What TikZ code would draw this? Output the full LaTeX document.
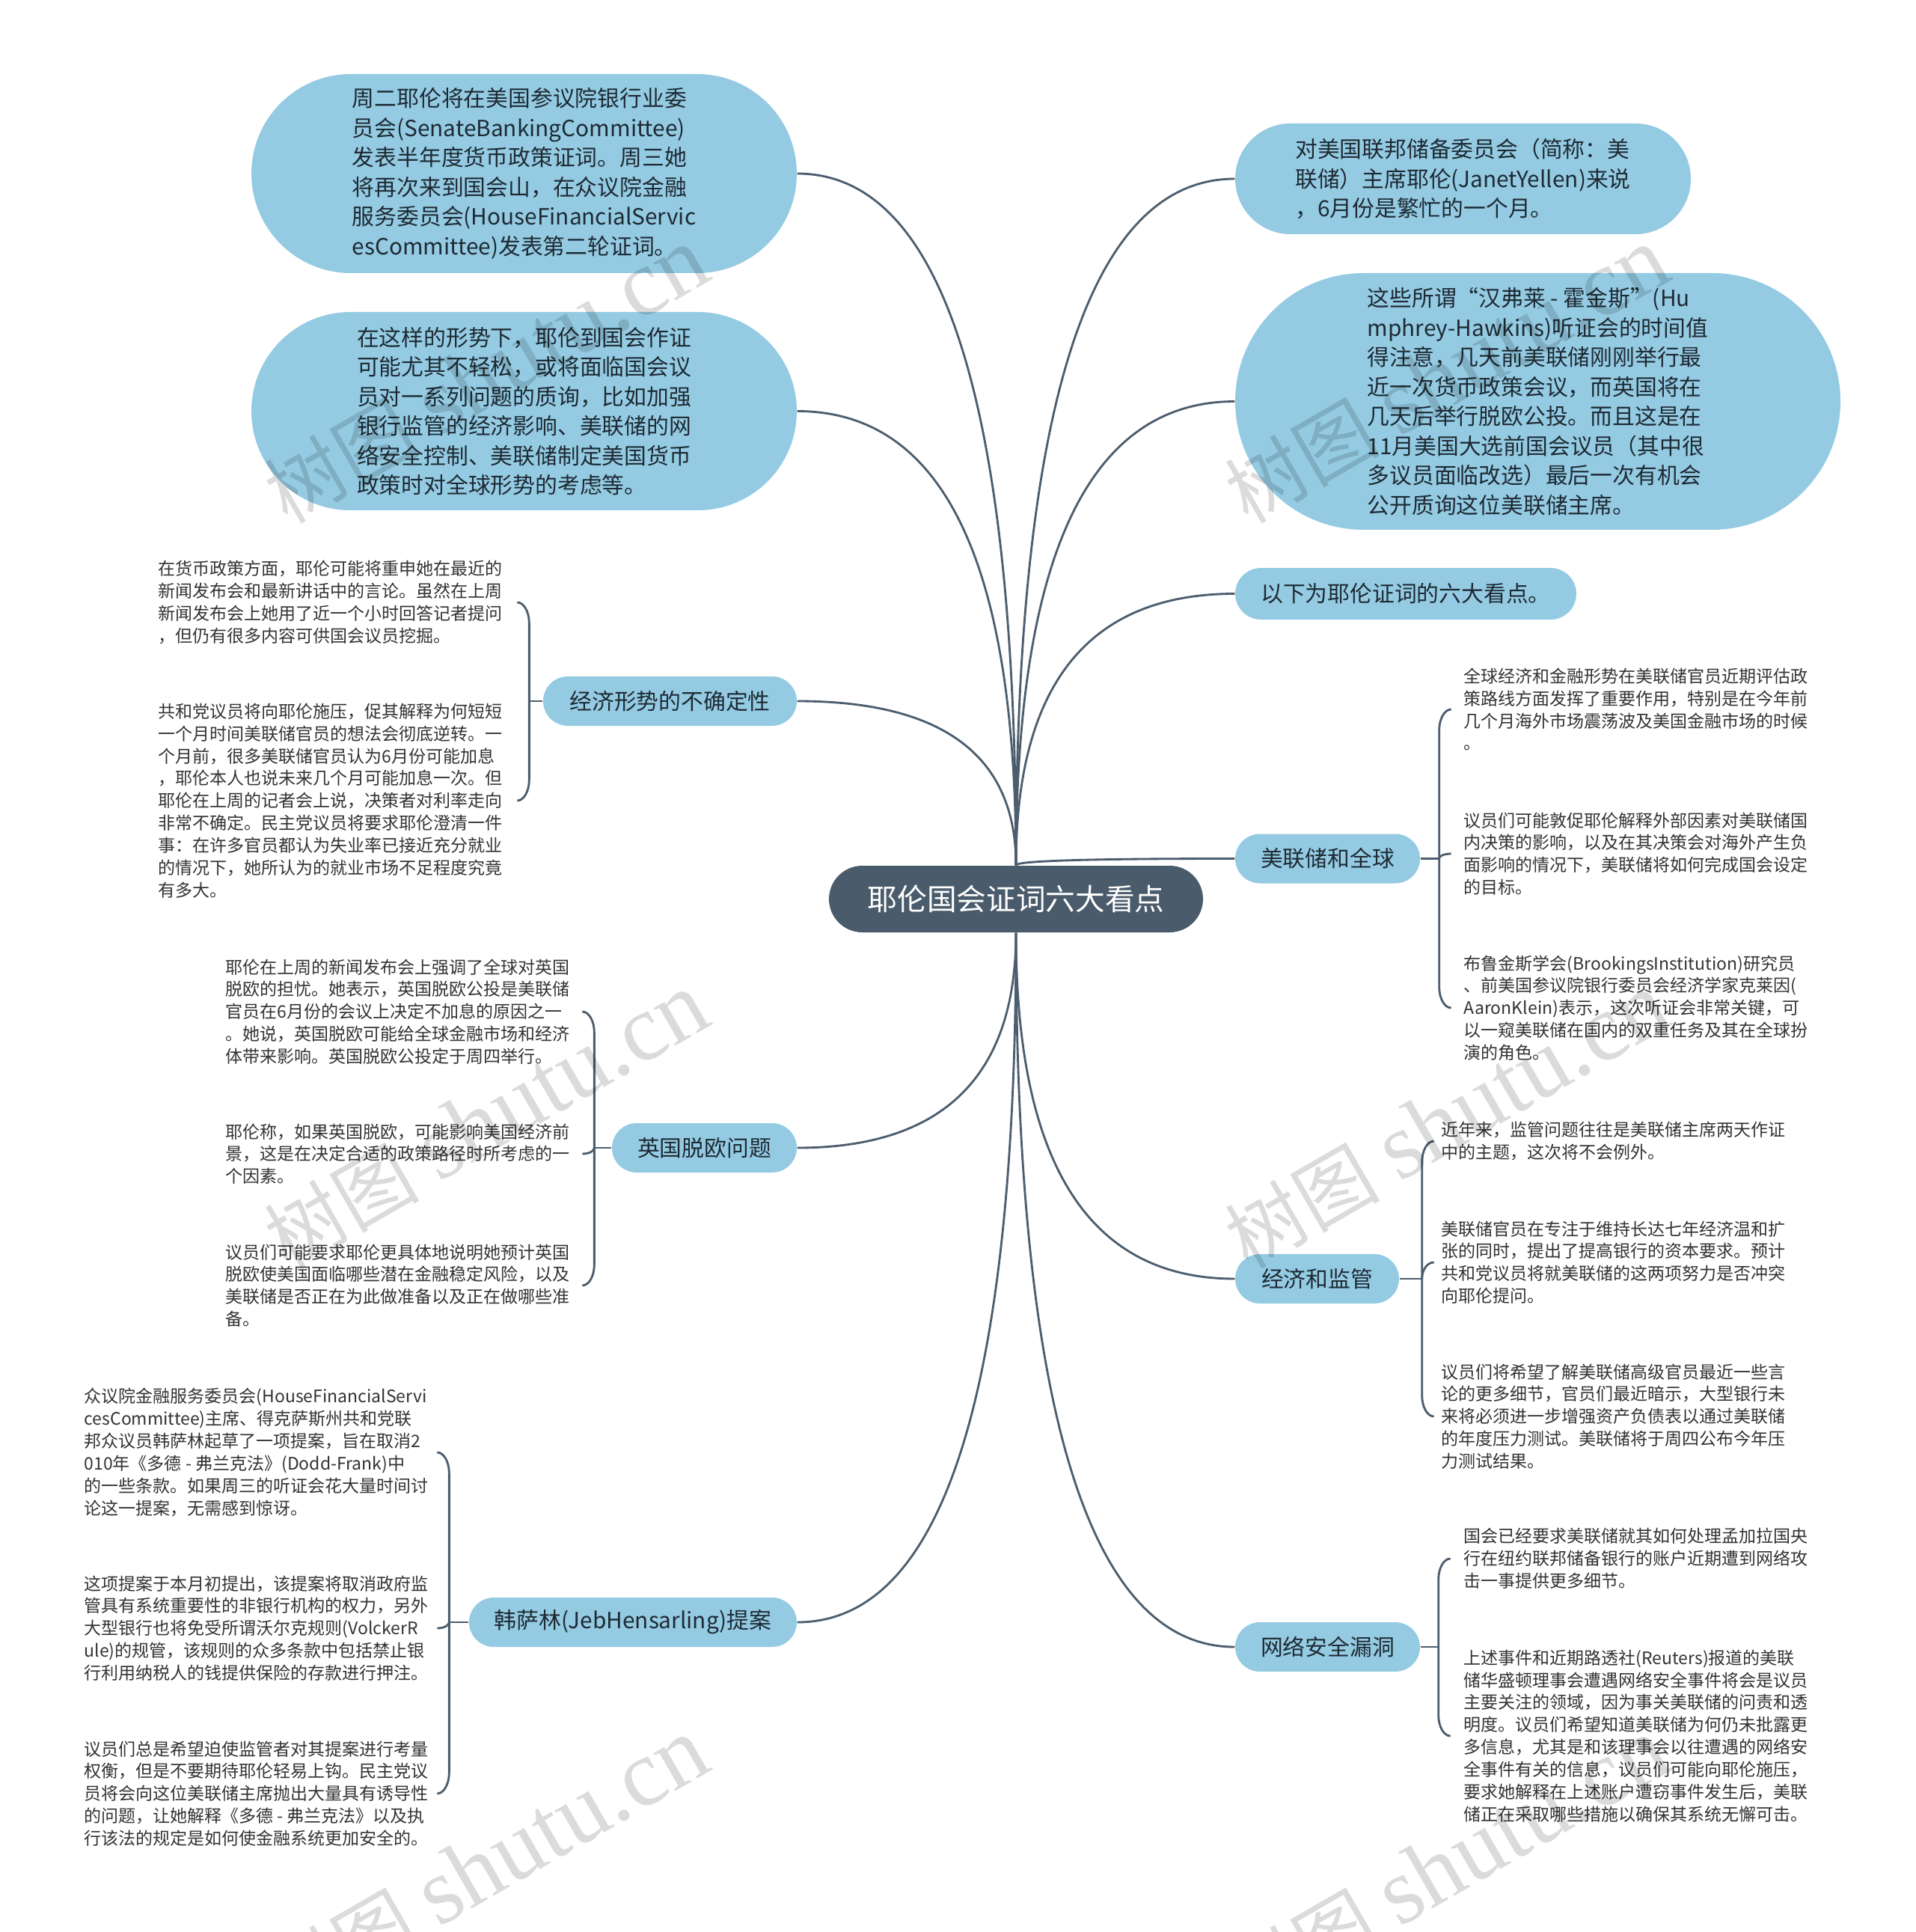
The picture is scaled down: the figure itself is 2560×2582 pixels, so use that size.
\documentclass[tikz,border=0pt]{standalone}
\usepackage{fontspec}
\setmainfont{Noto Sans CJK SC}
\newfontfamily\wmlat{Liberation Serif}
\usetikzlibrary{calc}
\definecolor{pillc}{HTML}{94CBE3}
\definecolor{darkc}{HTML}{4A5B6B}
\definecolor{linec}{HTML}{4C5D6D}
\definecolor{pilltext}{HTML}{1E2A33}
\definecolor{leaftext}{HTML}{333333}
\pgfdeclarelayer{bg}
\pgfdeclarelayer{fg}
\pgfsetlayers{bg,main,fg}
\newcommand\mainconn[2]{%
  \draw[conn] (#1) .. controls ($(#1)!0.667!(#1 |- #2)$) and ($(#2)!0.667!(#1 |- #2)$) .. (#2);}
\newcommand\leafconn[4]{%
  \draw[conn] (#1) -- ($(#1 |- #2.center)+(0,#4)$)
   .. controls ($(#1 |- #2.center)+(0,{#4*0.448})$) and ($(#1 |- #2.center)+({#3*0.448},0)$)
   .. ($(#1 |- #2.center)+(#3,0)$);}
\newcommand\wmtext{树图\hspace{0.25em}{\wmlat\fontsize{38}{38}\selectfont shutu.cn}}
\begin{document}
\begin{tikzpicture}[x=0.3pt,y=-0.3pt,
  conn/.style={draw=linec, line width=0.85pt},
  pill/.style={fill=pillc, text=pilltext, font=\fontsize{8.94}{11.85}\selectfont, align=left, inner sep=0pt},
  branch/.style={fill=pillc, text=pilltext, font=\fontsize{8.94}{11.85}\selectfont, inner sep=0pt, minimum height=19.8pt, rounded corners=9.9pt},
  root/.style={fill=darkc, text=white, font=\fontsize{11.9}{14}\selectfont, inner sep=0pt, minimum width=150pt, minimum height=26.7pt, rounded corners=13.35pt},
  leaf/.style={text=leaftext, font=\fontsize{6.9}{8.95}\selectfont, align=left, inner sep=0pt, anchor=west},
  wm/.style={opacity=0.14, inner sep=0pt, rotate=30, font=\fontsize{31}{31}\selectfont}
]
\useasboundingbox (0,0) rectangle (2560,2582);

% root
\node[root] (C) at (1358,1201.5) {耶伦国会证词六大看点};

% big pills
\node[pill, minimum width=218.7pt, minimum height=79.8pt, rounded corners=39.9pt] (P1) at (700.5,232) {周二耶伦将在美国参议院银行业委\\员会(SenateBankingCommittee)\\发表半年度货币政策证词。周三她\\将再次来到国会山，在众议院金融\\服务委员会(HouseFinancialServic\\esCommittee)发表第二轮证词。};
\node[pill, minimum width=218.7pt, minimum height=79.5pt, rounded corners=39.75pt] (P2) at (700.5,549.5) {在这样的形势下，耶伦到国会作证\\可能尤其不轻松，或将面临国会议\\员对一系列问题的质询，比如加强\\银行监管的经济影响、美联储的网\\络安全控制、美联储制定美国货币\\政策时对全球形势的考虑等。};
\node[pill, minimum width=182.7pt, minimum height=44.4pt, rounded corners=22.2pt] (R1) at (1955.5,239) {对美国联邦储备委员会（简称：美\\联储）主席耶伦(JanetYellen)来说\\，6月份是繁忙的一个月。};
\node[pill, minimum width=242.7pt, minimum height=102.9pt, rounded corners=51.45pt] (R2) at (2055.5,536.5) {这些所谓“汉弗莱 - 霍金斯”(Hu\\mphrey-Hawkins)听证会的时间值\\得注意，几天前美联储刚刚举行最\\近一次货币政策会议，而英国将在\\几天后举行脱欧公投。而且这是在\\11月美国大选前国会议员（其中很\\多议员面临改选）最后一次有机会\\公开质询这位美联储主席。};
\node[pill, minimum width=136.8pt, minimum height=20.7pt, rounded corners=10.35pt] (R3) at (1879,793.5) {以下为耶伦证词的六大看点。};

% branches
\node[branch, minimum width=74.1pt] (G) at (1774.5,1147.5) {美联储和全球};
\node[branch, minimum width=65.7pt] (R) at (1760.5,1709) {经济和监管};
\node[branch, minimum width=74.1pt] (N) at (1774.5,2201) {网络安全漏洞};
\node[branch, minimum width=101.7pt] (E) at (895.5,937) {经济形势的不确定性};
\node[branch, minimum width=74.1pt] (B) at (941.5,1534) {英国脱欧问题};
\node[branch, minimum width=131.4pt] (H) at (846,2168) {韩萨林(JebHensarling)提案};

% leaves: economic uncertainty
\node[leaf] (e1) at (211,805) {在货币政策方面，耶伦可能将重申她在最近的\\新闻发布会和最新讲话中的言论。虽然在上周\\新闻发布会上她用了近一个小时回答记者提问\\，但仍有很多内容可供国会议员挖掘。};
\node[leaf] (e2) at (211,1070) {共和党议员将向耶伦施压，促其解释为何短短\\一个月时间美联储官员的想法会彻底逆转。一\\个月前，很多美联储官员认为6月份可能加息\\，耶伦本人也说未来几个月可能加息一次。但\\耶伦在上周的记者会上说，决策者对利率走向\\非常不确定。民主党议员将要求耶伦澄清一件\\事：在许多官员都认为失业率已接近充分就业\\的情况下，她所认为的就业市场不足程度究竟\\有多大。};
% brexit
\node[leaf] (b1) at (301,1352) {耶伦在上周的新闻发布会上强调了全球对英国\\脱欧的担忧。她表示，英国脱欧公投是美联储\\官员在6月份的会议上决定不加息的原因之一\\。她说，英国脱欧可能给全球金融市场和经济\\体带来影响。英国脱欧公投定于周四举行。};
\node[leaf] (b2) at (301,1542) {耶伦称，如果英国脱欧，可能影响美国经济前\\景，这是在决定合适的政策路径时所考虑的一\\个因素。};
\node[leaf] (b3) at (301,1718) {议员们可能要求耶伦更具体地说明她预计英国\\脱欧使美国面临哪些潜在金融稳定风险，以及\\美联储是否正在为此做准备以及正在做哪些准\\备。};
% hensarling
\node[leaf] (h1) at (112,1941) {众议院金融服务委员会(HouseFinancialServi\\cesCommittee)主席、得克萨斯州共和党联\\邦众议员韩萨林起草了一项提案，旨在取消2\\010年《多德 - 弗兰克法》(Dodd-Frank)中\\的一些条款。如果周三的听证会花大量时间讨\\论这一提案，无需感到惊讶。};
\node[leaf] (h2) at (112,2176) {这项提案于本月初提出，该提案将取消政府监\\管具有系统重要性的非银行机构的权力，另外\\大型银行也将免受所谓沃尔克规则(VolckerR\\ule)的规管，该规则的众多条款中包括禁止银\\行利用纳税人的钱提供保险的存款进行押注。};
\node[leaf] (h3) at (112,2397) {议员们总是希望迫使监管者对其提案进行考量\\权衡，但是不要期待耶伦轻易上钩。民主党议\\员将会向这位美联储主席抛出大量具有诱导性\\的问题，让她解释《多德 - 弗兰克法》以及执\\行该法的规定是如何使金融系统更加安全的。};
% fed & global
\node[leaf] (g1) at (1956,948) {全球经济和金融形势在美联储官员近期评估政\\策路线方面发挥了重要作用，特别是在今年前\\几个月海外市场震荡波及美国金融市场的时候\\。};
\node[leaf] (g2) at (1956,1141) {议员们可能敦促耶伦解释外部因素对美联储国\\内决策的影响，以及在其决策会对海外产生负\\面影响的情况下，美联储将如何完成国会设定\\的目标。};
\node[leaf] (g3) at (1956,1347) {布鲁金斯学会(BrookingsInstitution)研究员\\、前美国参议院银行委员会经济学家克莱因(\\AaronKlein)表示，这次听证会非常关键，可\\以一窥美联储在国内的双重任务及其在全球扮\\演的角色。};
% economy & regulation
\node[leaf] (r1) at (1926,1525) {近年来，监管问题往往是美联储主席两天作证\\中的主题，这次将不会例外。};
\node[leaf] (r2) at (1926,1687) {美联储官员在专注于维持长达七年经济温和扩\\张的同时，提出了提高银行的资本要求。预计\\共和党议员将就美联储的这两项努力是否冲突\\向耶伦提问。};
\node[leaf] (r3) at (1926,1893) {议员们将希望了解美联储高级官员最近一些言\\论的更多细节，官员们最近暗示，大型银行未\\来将必须进一步增强资产负债表以通过美联储\\的年度压力测试。美联储将于周四公布今年压\\力测试结果。};
% cyber security
\node[leaf] (n1) at (1956,2083) {国会已经要求美联储就其如何处理孟加拉国央\\行在纽约联邦储备银行的账户近期遭到网络攻\\击一事提供更多细节。};
\node[leaf] (n2) at (1956,2320) {上述事件和近期路透社(Reuters)报道的美联\\储华盛顿理事会遭遇网络安全事件将会是议员\\主要关注的领域，因为事关美联储的问责和透\\明度。议员们希望知道美联储为何仍未批露更\\多信息，尤其是和该理事会以往遭遇的网络安\\全事件有关的信息，议员们可能向耶伦施压，\\要求她解释在上述账户遭窃事件发生后，美联\\储正在采取哪些措施以确保其系统无懈可击。};

% junctions
\coordinate (JE) at ($(E.west)+(-18,0)$);
\coordinate (JB) at ($(B.west)+(-23,0)$);
\coordinate (JH) at ($(H.west)+(-26,0)$);
\coordinate (JG) at ($(G.east)+(25,0)$);
\coordinate (JR) at ($(R.east)+(30,0)$);
\coordinate (JN) at ($(N.east)+(24,0)$);

\begin{pgfonlayer}{bg}
\fill[white] (0,0) rectangle (2560,2582);
% root connectors
\mainconn{C.north}{P1.east}
\mainconn{C.north}{P2.east}
\mainconn{C.north}{E.east}
\mainconn{C.south}{B.east}
\mainconn{C.south}{H.east}
\mainconn{C.north}{R1.west}
\mainconn{C.north}{R2.west}
\mainconn{C.north}{R3.west}
\mainconn{C.north}{G.west}
\mainconn{C.south}{R.west}
\mainconn{C.south}{N.west}
% branch to junction
\draw[conn] (E.west) -- (JE);
\draw[conn] (B.west) -- (JB);
\draw[conn] (H.west) -- (JH);
\draw[conn] (G.east) -- (JG);
\draw[conn] (R.east) -- (JR);
\draw[conn] (N.east) -- (JN);
% brackets
\leafconn{JE}{e1}{-16}{28}
\leafconn{JE}{e2}{-16}{-28}
\leafconn{JB}{b1}{-16}{28}
\leafconn{JB}{b2}{-16}{-8}
\leafconn{JB}{b3}{-16}{-28}
\leafconn{JH}{h1}{-16}{28}
\leafconn{JH}{h2}{-16}{-8}
\leafconn{JH}{h3}{-16}{-28}
\leafconn{JG}{g1}{16}{28}
\leafconn{JG}{g2}{16}{6}
\leafconn{JG}{g3}{16}{-28}
\leafconn{JR}{r1}{16}{28}
\leafconn{JR}{r2}{16}{22}
\leafconn{JR}{r3}{16}{-28}
\leafconn{JN}{n1}{16}{28}
\leafconn{JN}{n2}{16}{-28}
\end{pgfonlayer}

\begin{pgfonlayer}{fg}
\node[wm] (w1) at (650,502) {\wmtext};
\node[wm] (w2) at (1934,502) {\wmtext};
\node[wm] (w3) at (650,1498) {\wmtext};
\node[wm] (w4) at (1934,1498) {\wmtext};
\node[wm] (w5) at (650,2494) {\wmtext};
\node[wm] (w6) at (1934,2494) {\wmtext};
\end{pgfonlayer}
\end{tikzpicture}
\end{document}
